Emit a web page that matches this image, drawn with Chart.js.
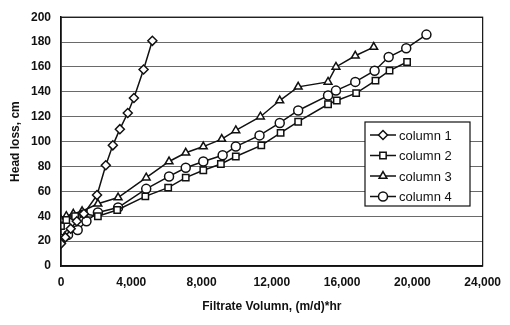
<!DOCTYPE html>
<html lang="en">
<head>
  <meta charset="UTF-8" />
  <title>Head loss vs filtrate volume</title>
  <script src="https://cdn.jsdelivr.net/npm/chart.js"></script>
  <style>
    html, body { margin: 0; padding: 0; background: #fff; }
    #wrap { width: 510px; height: 325px; position: relative; }
  </style>
</head>
<body>
  <div id="wrap"><canvas id="chart"></canvas></div>

  <script>
    // ==== data ====
    const seriesNames = ['column 1', 'column 2', 'column 3', 'column 4'];
    const xTicks = [0, 4000, 8000, 12000, 16000, 20000, 24000];
    const yTicks = [0, 20, 40, 60, 80, 100, 120, 140, 160, 180, 200];

    const col1X = [0, 250, 550, 900, 1300, 2050, 2550, 2950, 3350, 3800, 4150, 4700, 5200];
    const col1Y = [18, 23, 30, 36, 42, 57, 81, 97, 110, 123, 135, 158, 181];

    const col2X = [0, 300, 800, 1300, 2100, 3200, 4800, 6100, 7100, 8100, 9100, 9950, 11400, 12500, 13500, 15200, 15700, 16800, 17900, 18700, 19700];
    const col2Y = [32, 37, 40, 42, 40, 45, 56, 63, 71, 77, 82, 88, 97, 107, 116, 130, 133, 139, 149, 157, 164];

    const col3X = [0, 300, 700, 1200, 2100, 3250, 4850, 6150, 7100, 8100, 9150, 9950, 11350, 12450, 13500, 15200, 15650, 16750, 17800];
    const col3Y = [37, 40, 42, 44, 50, 55, 71, 84, 91, 96, 102, 109, 120, 133, 144, 148, 160, 169, 176];

    const col4X = [0, 400, 950, 1450, 2100, 3250, 4850, 6150, 7100, 8100, 9200, 9950, 11300, 12450, 13500, 15200, 15650, 16750, 17850, 18650, 19650, 20800];
    const col4Y = [22, 25, 29, 36, 43, 47, 62, 72, 79, 84, 89, 96, 105, 115, 125, 137, 141, 148, 157, 168, 175, 186];

    const pointStyles = ['rectRot', 'rect', 'triangle', 'circle'];

    function pts(xs, ys) {
      return xs.map((x, i) => ({ x: x, y: ys[i] }));
    }
    const allSeries = [pts(col1X, col1Y), pts(col2X, col2Y), pts(col3X, col3Y), pts(col4X, col4Y)];

    const FONT = 'Liberation Sans, Arial, sans-serif';

    // frame round the plot area (top and right sides too)
    const framePlugin = {
      id: 'frame',
      afterDatasetsDraw(chart) {
        const a = chart.chartArea, ctx = chart.ctx;
        ctx.save();
        ctx.strokeStyle = '#111';
        ctx.lineWidth = 1.2;
        ctx.strokeRect(a.left, a.top, a.right - a.left, a.bottom - a.top);
        ctx.restore();
      }
    };

    // boxed legend inside the plot, lower right
    const legendBox = {
      id: 'legendBox',
      afterDraw(chart) {
        const ctx = chart.ctx;
        const bx = 365, by = 122, bw = 105, bh = 84;
        ctx.save();
        ctx.fillStyle = '#fff';
        ctx.fillRect(bx, by, bw, bh);
        ctx.strokeStyle = '#111';
        ctx.lineWidth = 1.2;
        ctx.strokeRect(bx, by, bw, bh);
        ctx.font = '13px ' + FONT;
        ctx.textBaseline = 'middle';
        seriesNames.forEach((name, i) => {
          const y = by + 13 + i * 20.5;
          ctx.strokeStyle = '#111';
          ctx.lineWidth = 1.5;
          ctx.beginPath();
          ctx.moveTo(bx + 5, y);
          ctx.lineTo(bx + 31, y);
          ctx.stroke();
          ctx.fillStyle = '#fff';   // open markers, like the plot
          Chart.helpers.drawPoint(ctx, {
            pointStyle: pointStyles[i], radius: 4.5, borderWidth: 1.5
          }, bx + 18, y);
          ctx.fillStyle = '#111';
          ctx.fillText(name, bx + 34, y + 1);
        });
        ctx.restore();
      }
    };

    new Chart(document.getElementById('chart'), {
      type: 'line',
      data: {
        datasets: allSeries.map((data, i) => ({
          label: seriesNames[i],
          data: data,
          borderColor: '#111',
          borderWidth: 1.5,
          pointStyle: pointStyles[i],
          pointRadius: 4.5,
          pointBorderWidth: 1.5,
          pointBackgroundColor: '#fff',
          pointBorderColor: '#111',
          tension: 0
        }))
      },
      options: {
        responsive: true,
        maintainAspectRatio: false,
        animation: false,
        layout: { padding: { left: 4, top: 10, right: 23, bottom: 7 } },
        plugins: { legend: { display: false }, tooltip: { enabled: false } },
        scales: {
          x: {
            type: 'linear',
            min: xTicks[0],
            max: xTicks[xTicks.length - 1],
            afterBuildTicks: (axis) => { axis.ticks = xTicks.map(v => ({ value: v })); },
            afterFit: (axis) => { axis.height = 52; },
            grid: { display: false, drawTicks: false },
            border: { color: '#111', width: 1.5 },
            ticks: {
              color: '#111',
              padding: 9,
              font: { family: FONT, size: 12, weight: 'bold' },
              callback: (v) => v.toLocaleString('en-US')
            },
            title: {
              display: true,
              text: 'Filtrate Volumn, (m/d)*hr',
              color: '#111',
              padding: { top: 2 },
              font: { family: FONT, size: 12, weight: 'bold' }
            }
          },
          y: {
            min: yTicks[0],
            max: yTicks[yTicks.length - 1],
            afterBuildTicks: (axis) => { axis.ticks = yTicks.map(v => ({ value: v })); },
            afterFit: (axis) => { axis.width = 57; },
            grid: { color: '#444', lineWidth: 0.8, drawTicks: false },
            border: { color: '#111', width: 1.5 },
            ticks: {
              color: '#111',
              padding: 10,
              font: { family: FONT, size: 12, weight: 'bold' }
            },
            title: {
              display: true,
              text: 'Head loss, cm',
              color: '#111',
              padding: { bottom: 2 },
              font: { family: FONT, size: 12, weight: 'bold' }
            }
          }
        }
      },
      plugins: [framePlugin, legendBox]
    });
  </script>
</body>
</html>
